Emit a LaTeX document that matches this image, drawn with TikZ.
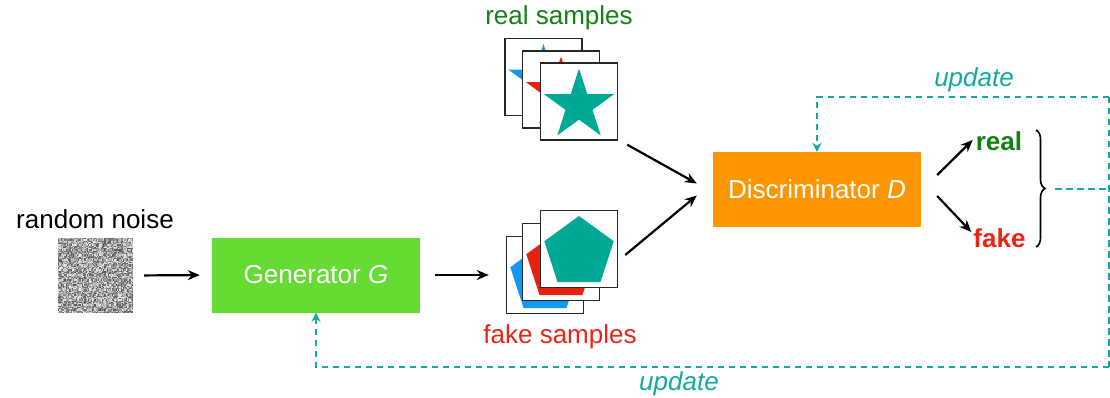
\documentclass[tikz,border=0pt]{standalone}
\usepackage{fontspec}
\setmainfont{Liberation Sans}
\usetikzlibrary{shapes.geometric,arrows.meta,decorations.pathreplacing,calc}

\definecolor{genGreen}{RGB}{102,219,51}
\definecolor{discOrange}{RGB}{255,150,0}
\definecolor{updTeal}{RGB}{20,170,158}
\definecolor{realGreen}{RGB}{18,128,18}
\definecolor{fakeRed}{RGB}{236,36,20}
\definecolor{shapeBlue}{RGB}{20,152,242}
\definecolor{shapeRed}{RGB}{232,32,16}
\definecolor{shapeTeal}{RGB}{0,168,150}

\begin{document}
\begin{tikzpicture}[x=1pt,y=-1pt,
  font=\fontsize{26}{30}\selectfont,
  every node/.style={inner sep=0pt},
  box/.style={minimum width=208pt, minimum height=75pt, text=white},
  frame/.style={draw=black!85, line width=1.4pt, fill=white, minimum size=77pt},
  starshape/.style={star, star points=5, star point ratio=2.618, minimum size=74pt, fill=#1},
  pentshape/.style={regular polygon, regular polygon sides=5, minimum size=73pt, fill=#1},
  flow/.style={-{Stealth[length=12pt,width=10pt]}, line width=2.2pt},
  upd/.style={draw=updTeal, line width=2.8pt, dash pattern=on 6.5pt off 4.5pt},
  updtip/.style={-{Stealth[length=9pt,width=9pt]}},
  updlabel/.style={text=updTeal, font=\fontsize{26}{30}\selectfont\itshape}
]
\useasboundingbox (0,0) rectangle (1110,398);

% input noise
\node[anchor=base] (noiselbl) at (95,228) {random noise};
\node[minimum size=75pt] (noise) at (95.5,275.5) {};
\pgfmathsetseed{7}
\foreach \i in {0,...,59}{
  \foreach \j in {0,...,59}{
    \pgfmathsetmacro\g{32+62*rnd}
    \fill[white!\g!black] ({58+1.25*\i},{238+1.25*\j}) rectangle ({59.35+1.25*\i},{239.35+1.25*\j});
  }
}

% generator and discriminator
\node[box, fill=genGreen] (gen) at (316,275) {Generator \textit{G}};
\node[box, fill=discOrange] (disc) at (817,189.5) {Discriminator \textit{D}};

% real samples stack
\node[frame] (rb) at (543.5,77) {};
\node[starshape=shapeBlue] at (543.5,81) {};
\node[frame] (rm) at (561,89.5) {};
\node[starshape=shapeRed] at (561,93.5) {};
\node[frame] (rf) at (579,101.5) {};
\node[starshape=shapeTeal] at (579,105.5) {};
\node[anchor=base, text=realGreen] (reallbl) at (559,25) {real samples};

% fake samples stack
\node[frame] (fb) at (545,275) {};
\node[pentshape=shapeBlue] at (545,278.5) {};
\node[frame] (fm) at (561,262) {};
\node[pentshape=shapeRed] at (561,265.5) {};
\node[frame] (ff) at (579,249) {};
\node[pentshape=shapeTeal] at (579,252.5) {};
\node[anchor=base, text=fakeRed] (fakelbl) at (560,343) {fake samples};

% main flow
\draw[flow, shorten <=11pt, shorten >=12pt] (noise.east) -- (gen.west);
\draw[flow, shorten <=15pt, shorten >=17pt] (gen.east) -- (fb.west);
\draw[flow] ($(rf.south east)+(9,4)$) -- ($(disc.west)+(-16,-6)$);
\draw[flow] ($(ff.east)+(7,6)$) -- ($(disc.west)+(-16,6)$);

% outputs
\node[text=realGreen, font=\fontsize{26}{30}\selectfont\bfseries] (real) at (999,141) {real};
\node[text=fakeRed, font=\fontsize{26}{30}\selectfont\bfseries] (fake) at (999.5,238) {fake};
\draw[flow] ($(disc.east)+(16,-14.5)$) -- ($(real.west)+(-3,-1)$);
\draw[flow] ($(disc.east)+(16,6.5)$) -- ($(fake.west)+(-2,-6)$);

\coordinate (btop) at (1036,130);
\coordinate (bbot) at (1036,247);
\draw[line width=1.6pt, decorate, decoration={brace, amplitude=9pt}] (btop) -- (bbot);

% update feedback
\coordinate (bt) at (1055,189);
\coordinate (ur) at (1109,97);
\coordinate (lr) at (1109,367);
\draw[upd] (bt) -- (bt -| ur);
\draw[upd] (ur) -- (lr);
\draw[upd, updtip] (ur) -- (ur -| disc.north) -- (disc.north);
\draw[upd, updtip] (lr) -- (lr -| gen.south) -- (gen.south);
\node[updlabel, anchor=base] (upd1) at (974,86.5) {update};
\node[updlabel, anchor=base] (upd2) at (679,390) {update};
\end{tikzpicture}
\end{document}
